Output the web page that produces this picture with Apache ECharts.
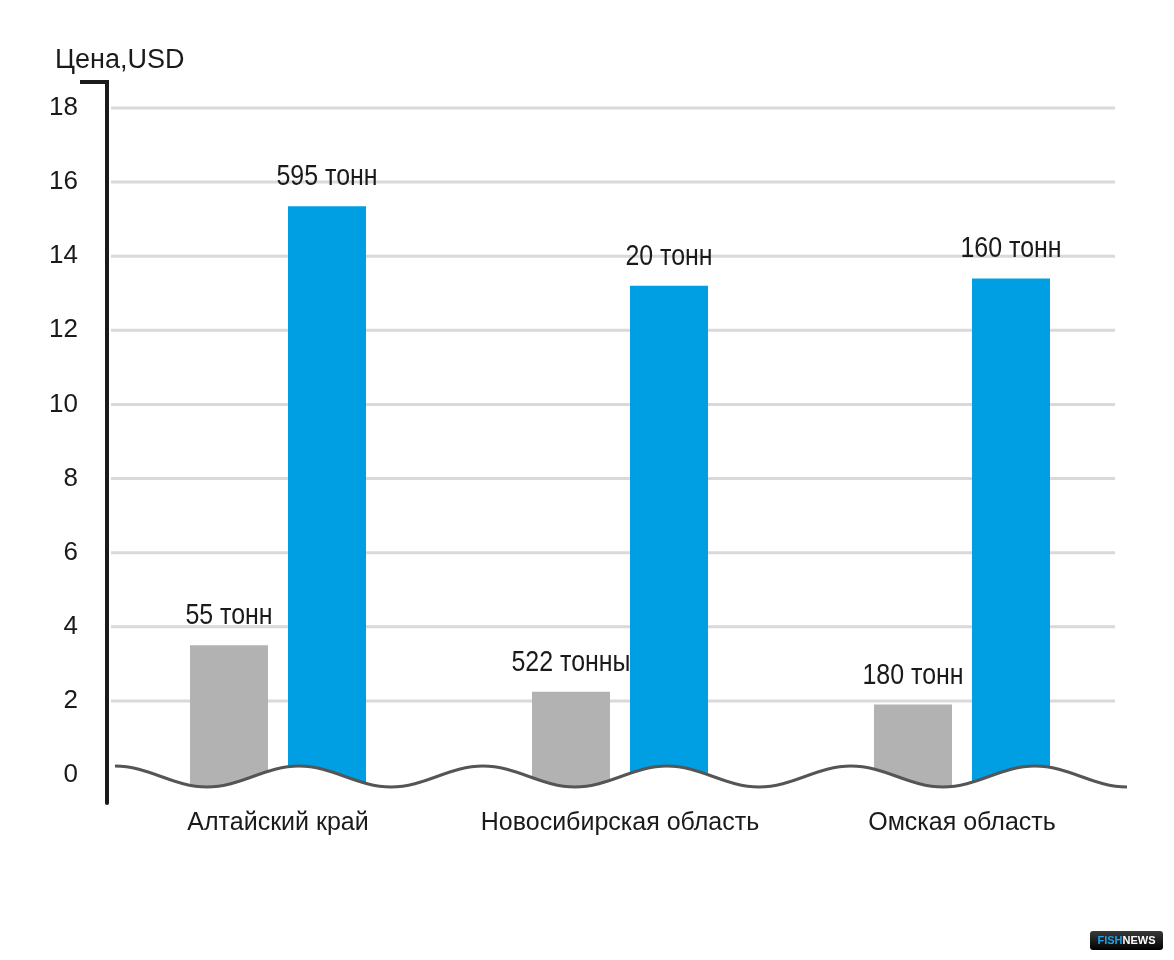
<!DOCTYPE html>
<html>
<head>
<meta charset="utf-8">
<script src="https://cdn.jsdelivr.net/npm/echarts@6/dist/echarts.min.js"></script>
<style>
  html, body { margin: 0; padding: 0; background: #fff; }
  #chart { width: 1174px; height: 960px; }
</style>
</head>
<body>
<div id="chart"></div>
<script>
// regions and prices (USD), with the volume written over each bar
var regions = ['Алтайский край', 'Новосибирская область', 'Омская область'];
var grayPrices = [3.5, 2.25, 1.9];
var bluePrices = [15.35, 13.2, 13.4];
var grayVolumes = ['55 тонн', '522 тонны', '180 тонн'];
var blueVolumes = ['595 тонн', '20 тонн', '160 тонн'];
var yTicks = [0, 2, 4, 6, 8, 10, 12, 14, 16, 18];
var gridTicks = [2, 4, 6, 8, 10, 12, 14, 16, 18];

var font = "'Liberation Sans', Arial, sans-serif";
var barWidth = 78, barGap = 20, breakBase = -0.4;

function barSeries(values, labels, side, color) {
  return {
    type: 'custom',
    z: 2,
    clip: false,
    data: values.map(function (v, i) { return [i, v]; }),
    renderItem: function (params, api) {
      var top = api.coord([api.value(0), api.value(1)]);
      var bot = api.coord([api.value(0), breakBase]);
      var cx = top[0] + side * (barGap / 2 + barWidth / 2);
      return {
        type: 'group',
        children: [{
          type: 'rect',
          shape: { x: cx - barWidth / 2, y: top[1], width: barWidth, height: bot[1] - top[1] },
          style: { fill: color }
        }, {
          type: 'text',
          x: cx, y: top[1] - 29,
          scaleX: 0.86,
          style: {
            text: labels[params.dataIndex],
            x: 0, y: 0,
            align: 'center', verticalAlign: 'middle',
            fontSize: 29, fontFamily: font, fill: '#1a1a1a'
          }
        }]
      };
    }
  };
}

// wavy "broken axis" line at the bottom
var wave = 'M115,766';
for (var i = 0; i < 11; i++) {
  var x0 = 115 + 92 * i, ya = i % 2 ? 787 : 766, yb = i % 2 ? 766 : 787;
  wave += ' C' + (x0 + 33.5) + ',' + ya + ' ' + (x0 + 58.5) + ',' + yb + ' ' + (x0 + 92) + ',' + yb;
}

var myChart = echarts.init(document.getElementById('chart'));
var option = {
  animation: false,
  title: {
    text: 'Цена,USD',
    left: 50, top: 42,
    textStyle: { fontSize: 27, fontWeight: 'normal', color: '#1a1a1a', fontFamily: font }
  },
  grid: { left: 107, right: 41, top: 82, bottom: 157 },
  xAxis: {
    type: 'category',
    data: regions,
    axisLine: { show: false },
    axisTick: { show: false },
    axisLabel: { interval: 0, margin: 8, fontSize: 25, fontFamily: font, color: '#1a1a1a' }
  },
  yAxis: {
    type: 'value',
    min: -0.755, max: 18.7,
    axisLine: { show: true, lineStyle: { color: '#1a1a1a', width: 4 } },
    axisTick: { show: false },
    splitLine: { show: false },
    axisLabel: { customValues: yTicks, margin: 29, padding: [6, 0, 0, 0], fontSize: 26, fontFamily: font, color: '#1a1a1a' }
  },
  series: [
    {
      // horizontal grid lines behind the bars
      type: 'custom',
      z: 1,
      silent: true,
      data: gridTicks.map(function (t) { return [0, t]; }),
      renderItem: function (params, api) {
        var y = api.coord([0, api.value(1)])[1];
        var cs = params.coordSys;
        return {
          type: 'line',
          shape: { x1: cs.x + 4, y1: y, x2: 1115, y2: y },
          style: { stroke: '#d9d9d9', lineWidth: 3 }
        };
      }
    },
    barSeries(grayPrices, grayVolumes, -1, '#b2b2b2'),
    barSeries(bluePrices, blueVolumes, 1, '#009fe3'),
    {
      type: 'custom',
      z: 5,
      silent: true,
      data: [[0, 0]],
      renderItem: function () {
        return {
          type: 'group',
          children: [
            { type: 'path', shape: { pathData: wave + ' L1127,796 L115,796 Z' }, style: { fill: '#fff', stroke: null } },
            { type: 'path', shape: { pathData: wave }, style: { fill: null, stroke: '#555', lineWidth: 3 } }
          ]
        };
      }
    }
  ],
  graphic: [
    { type: 'line', z: 100, shape: { x1: 80, y1: 82, x2: 109, y2: 82 }, style: { stroke: '#1a1a1a', lineWidth: 4 } },
    { type: 'rect', z: 100, shape: { x: 1090, y: 931, width: 73, height: 19, r: 3 },
      style: { fill: new echarts.graphic.LinearGradient(0, 0, 0, 1, [{ offset: 0, color: '#3a3a3a' }, { offset: 1, color: '#000' }]) } },
    { type: 'text', z: 101, style: {
        text: '{a|FISH}{b|NEWS}', x: 1126.5, y: 941, align: 'center', verticalAlign: 'middle',
        rich: {
          a: { fill: '#1ea0e6', fontSize: 11, fontWeight: 'bold', fontFamily: 'Arial, sans-serif' },
          b: { fill: '#fff', fontSize: 11, fontWeight: 'bold', fontFamily: 'Arial, sans-serif' }
        } } }
  ]
};
myChart.setOption(option);
</script>
</body>
</html>
